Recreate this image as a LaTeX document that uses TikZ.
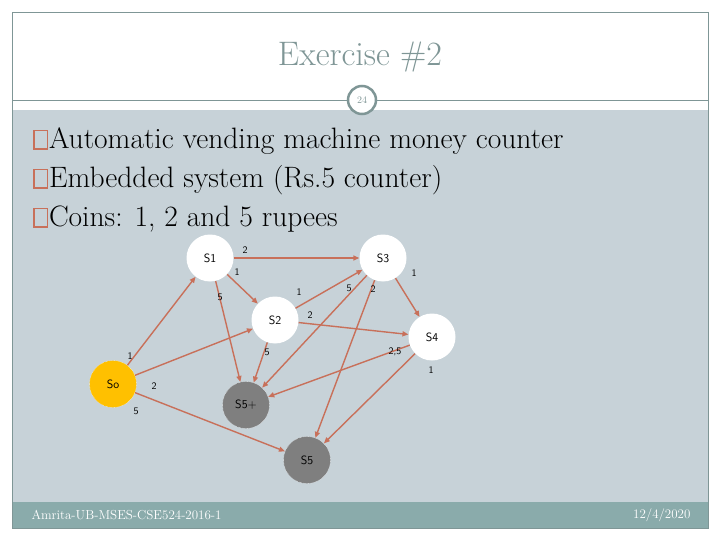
\documentclass[tikz,border=0pt]{standalone}
\usetikzlibrary{arrows.meta}
\definecolor{bg}{HTML}{C7D2D8}
\definecolor{foot}{HTML}{8AABAB}
\definecolor{edge}{HTML}{C8705A}
\definecolor{ttl}{HTML}{7F9696}
\definecolor{dark}{HTML}{7F7F7F}
\definecolor{gold}{HTML}{FFC000}
\newcommand{\bbox}{\textcolor{edge}{\fboxrule=1.4pt\fboxsep=0pt\fbox{\rule{0pt}{17pt}\hspace{12pt}}}}
\begin{document}
\begin{tikzpicture}[x=1pt,y=-1pt,
  st/.style={circle,minimum size=47pt,inner sep=0pt,font=\sffamily\large},
  wst/.style={st,fill=white},
  gst/.style={st,fill=dark,draw=white,densely dotted},
  ar/.style={draw=edge,line width=1.4pt,-{Triangle[length=6pt,width=5pt]}},
  lb/.style={font=\sffamily,inner sep=1pt},
  bul/.style={font=\fontsize{29.5}{32}\selectfont,anchor=west,inner sep=0pt}]
\useasboundingbox (0,0) rectangle (720,540);
\fill[white] (0,0) rectangle (720,540);
\fill[bg] (12,110) rectangle (708,502);
\fill[foot] (12,502) rectangle (708,528);
\draw[ttl,line width=0.6pt] (12,12) rectangle (708,528);
\draw[ttl,line width=0.6pt] (12,100) -- (708,100);
\node[font=\fontsize{34}{38}\selectfont,text=ttl] (title) at (360,57) {Exercise \#2};
\node[circle,fill=white,draw=ttl,line width=2.5pt,minimum size=28pt,inner sep=0pt,font=\normalsize,text=ttl] (pg) at (362,100) {24};
\node[bul] (b1) at (33,141) {\bbox\hspace{1pt}Automatic vending machine money counter};
\node[bul] (b2) at (33,180) {\bbox\hspace{1pt}Embedded system (Rs.5 counter)};
\node[bul] (b3) at (33,219) {\bbox\hspace{1pt}Coins: 1, 2 and 5 rupees};
\node[wst] (s1) at (210,258) {S1};
\node[wst] (s3) at (383,258) {S3};
\node[wst] (s2) at (275,320) {S2};
\node[wst] (s4) at (432,337) {S4};
\node[st,fill=gold,draw=white,densely dotted] (s0) at (113,384) {So};
\node[gst] (s5p) at (246,405) {S5+};
\node[gst] (s5) at (307,460) {S5};
\draw[ar] (s0) -- (s1);
\draw[ar] (s0) -- (s2);
\draw[ar] (s0) -- (s5);
\draw[ar] (s1) -- (s3);
\draw[ar] (s1) -- (s2);
\draw[ar] (s1) -- (s5p);
\draw[ar] (s2) -- (s3);
\draw[ar] (s2) -- (s4);
\draw[ar] (s2) -- (s5p);
\draw[ar] (s3) -- (s5p);
\draw[ar] (s3) -- (s5);
\draw[ar] (s3) -- (s4);
\draw[ar] (s4) -- (s5p);
\draw[ar] (s4) -- (s5);
\node[lb] (l1) at (245,250) {2};
\node[lb] (l2) at (237,272) {1};
\node[lb] (l3) at (220,297) {5};
\node[lb] (l4) at (299,292) {1};
\node[lb] (l5) at (349,288) {5};
\node[lb] (l6) at (373,289) {2};
\node[lb] (l7) at (414,273) {1};
\node[lb] (l8) at (310,315) {2};
\node[lb] (l9) at (267,352) {5};
\node[lb] (l10) at (395,352) {2,5};
\node[lb] (l11) at (431,370) {1};
\node[lb] (l12) at (130,356) {1};
\node[lb] (l13) at (154,386) {2};
\node[lb] (l14) at (136,411) {5};
\node[font=\fontsize{13}{15}\selectfont,text=white,anchor=west] (ft1) at (28,515) {Amrita-UB-MSES-CSE524-2016-1};
\node[font=\fontsize{13}{15}\selectfont,text=white,anchor=east] (ft2) at (694,515) {12/4/2020};
\end{tikzpicture}
\end{document}
